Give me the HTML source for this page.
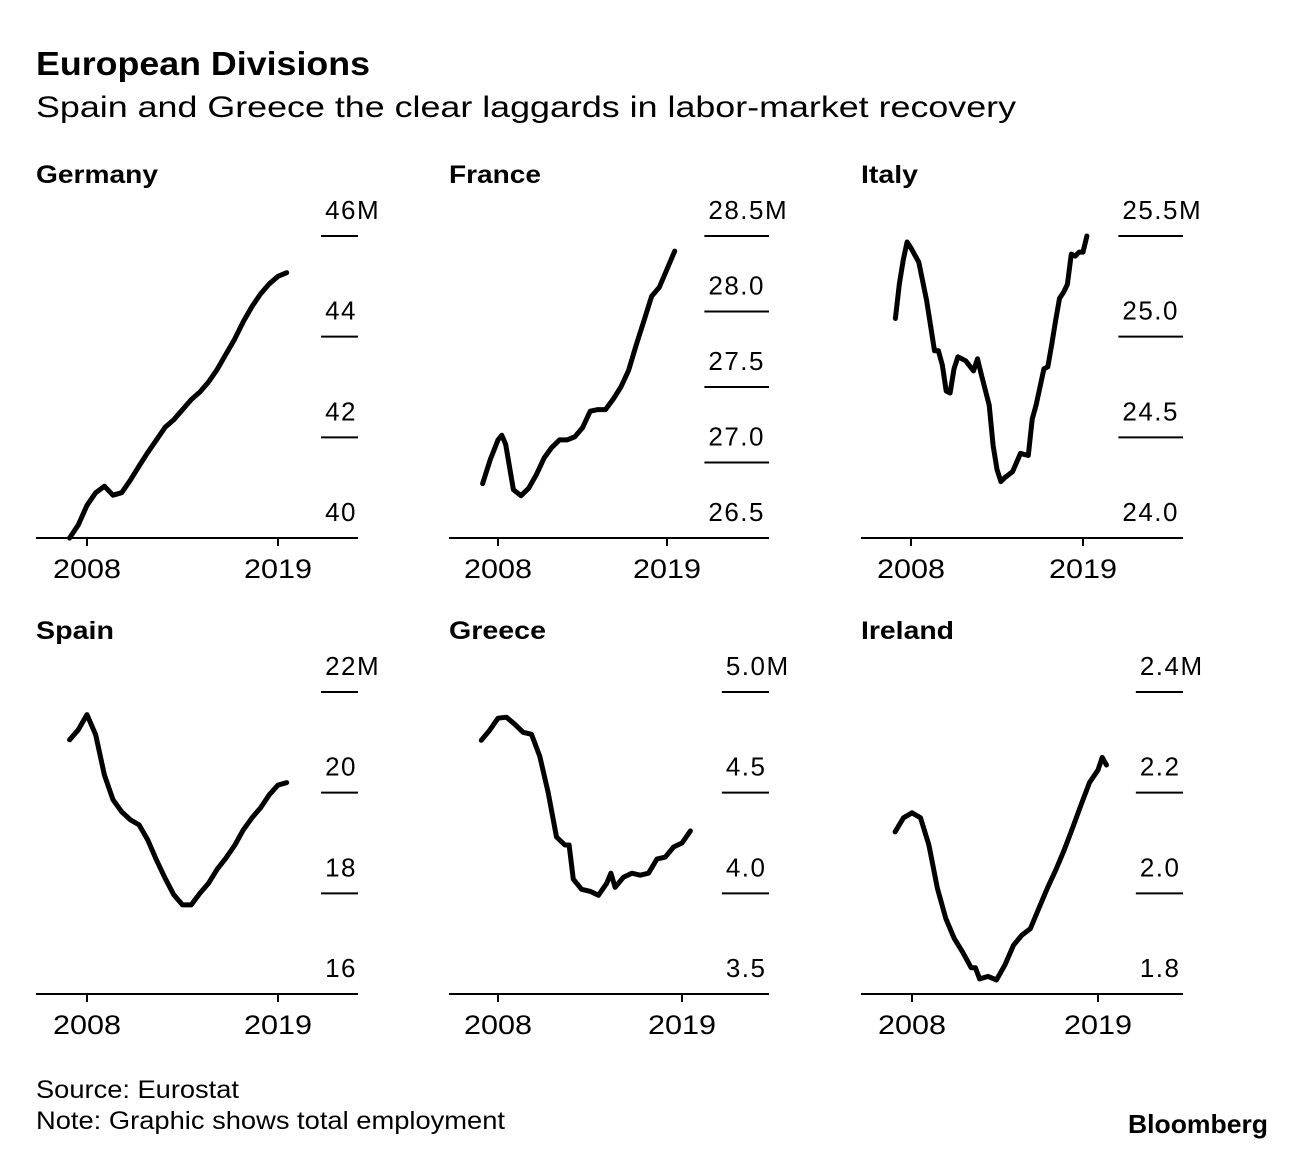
<!DOCTYPE html>
<html><head><meta charset="utf-8"><style>
body{margin:0;background:#fff;font-family:"Liberation Sans",Arial,sans-serif;}
svg text{font-family:"Liberation Sans",Arial,sans-serif;fill:#000;}
</style></head><body>
<svg id="c" width="1296" height="1150" viewBox="0 0 1296 1150">
<text x="36" y="75" font-size="33" font-weight="bold" textLength="334" lengthAdjust="spacingAndGlyphs">European Divisions</text>
<text x="36" y="117" font-size="30" textLength="980" lengthAdjust="spacingAndGlyphs">Spain and Greece the clear laggards in labor-market recovery</text>
<text x="36" y="1098" font-size="25" textLength="203" lengthAdjust="spacingAndGlyphs">Source: Eurostat</text>
<text x="36" y="1129" font-size="25" textLength="469" lengthAdjust="spacingAndGlyphs">Note: Graphic shows total employment</text>
<text x="1128" y="1133" font-size="26" font-weight="bold" textLength="140" lengthAdjust="spacingAndGlyphs">Bloomberg</text>
</svg>
<script>
const germanyYears=[2007,2007.5,2008,2008.5,2009,2009.5,2010,2010.5,2011,2011.5,2012,2012.5,2013,2013.5,2014,2014.5,2015,2015.5,2016,2016.5,2017,2017.5,2018,2018.5,2019,2019.5];
const germanyValues=[40.0,40.26,40.65,40.9,41.03,40.85,40.9,41.15,41.43,41.7,41.95,42.2,42.35,42.55,42.75,42.9,43.1,43.35,43.65,43.95,44.3,44.6,44.85,45.05,45.2,45.27];
const franceYears=[2007,2007.5,2008,2008.25,2008.5,2009,2009.5,2010,2010.5,2011,2011.5,2012,2012.5,2013,2013.5,2014,2014.5,2015,2015.5,2016,2016.5,2017,2017.5,2018,2018.5,2019,2019.5];
const franceValues=[26.86,27.02,27.15,27.18,27.12,26.82,26.78,26.83,26.92,27.03,27.1,27.15,27.15,27.17,27.23,27.34,27.35,27.35,27.42,27.5,27.61,27.78,27.94,28.1,28.16,28.28,28.4];
const italyYears=[2007,2007.25,2007.5,2007.75,2008,2008.5,2009,2009.5,2009.75,2010,2010.25,2010.5,2010.75,2011,2011.5,2012,2012.25,2012.5,2013,2013.25,2013.5,2013.75,2014,2014.5,2015,2015.5,2015.75,2016,2016.5,2016.75,2017,2017.25,2017.5,2017.75,2018,2018.25,2018.5,2018.75,2019,2019.25];
const italyValues=[25.09,25.26,25.38,25.47,25.44,25.37,25.18,24.93,24.93,24.86,24.73,24.72,24.84,24.9,24.88,24.83,24.89,24.81,24.66,24.46,24.34,24.28,24.3,24.33,24.42,24.41,24.59,24.66,24.84,24.85,24.96,25.08,25.19,25.22,25.26,25.41,25.4,25.42,25.42,25.5];
const spainYears=[2007,2007.5,2008,2008.25,2008.5,2009,2009.5,2010,2010.5,2011,2011.5,2012,2012.5,2013,2013.5,2014,2014.5,2015,2015.5,2016,2016.5,2017,2017.5,2018,2018.5,2019,2019.5];
const spainValues=[21.05,21.25,21.55,21.35,21.15,20.35,19.86,19.62,19.46,19.36,19.06,18.66,18.3,17.97,17.77,17.77,18.0,18.2,18.48,18.7,18.95,19.26,19.5,19.7,19.96,20.15,20.2];
const greeceYears=[2007,2007.5,2008,2008.5,2009,2009.5,2010,2010.5,2011,2011.5,2012,2012.25,2012.5,2013,2013.5,2014,2014.5,2014.75,2015,2015.5,2016,2016.5,2017,2017.5,2018,2018.5,2019,2019.5];
const greeceValues=[4.76,4.81,4.87,4.875,4.84,4.8,4.79,4.68,4.5,4.28,4.24,4.24,4.07,4.02,4.01,3.99,4.05,4.1,4.03,4.08,4.1,4.09,4.1,4.17,4.18,4.23,4.25,4.31];
const irelandYears=[2007,2007.5,2008,2008.5,2009,2009.5,2010,2010.5,2011,2011.5,2011.75,2012,2012.5,2013,2013.5,2014,2014.5,2015,2015.5,2016,2016.5,2017,2017.5,2018,2018.5,2019,2019.25,2019.5];
const irelandValues=[2.122,2.15,2.16,2.15,2.096,2.01,1.95,1.91,1.883,1.852,1.852,1.83,1.835,1.828,1.858,1.897,1.917,1.93,1.97,2.01,2.046,2.086,2.13,2.176,2.22,2.245,2.27,2.255];
const germanyTicks=["40","42","44","46M"];
const franceTicks=["26.5","27.0","27.5","28.0","28.5M"];
const italyTicks=["24.0","24.5","25.0","25.5M"];
const spainTicks=["16","18","20","22M"];
const greeceTicks=["3.5","4.0","4.5","5.0M"];
const irelandTicks=["1.8","2.0","2.2","2.4M"];
const xTickYears=[2008,2019];

const svg=document.getElementById('c');
const NS='http://www.w3.org/2000/svg';
function mk(tag,attrs){const e=document.createElementNS(NS,tag);for(const k in attrs)e.setAttribute(k,attrs[k]);svg.appendChild(e);return e;}

const panels=[
 {key:'germany',name:'Germany',tw:122,years:germanyYears,vals:germanyValues,ticks:germanyTicks,min:40,max:46,left:36,right:358,base:538,top:236,x08:87,x19:278},
 {key:'france',name:'France',tw:92,years:franceYears,vals:franceValues,ticks:franceTicks,min:26.5,max:28.5,left:449,right:769,base:538,top:236,x08:498,x19:667},
 {key:'italy',name:'Italy',tw:57,years:italyYears,vals:italyValues,ticks:italyTicks,min:24,max:25.5,left:861,right:1183,base:538,top:236,x08:911,x19:1083},
 {key:'spain',name:'Spain',tw:78,years:spainYears,vals:spainValues,ticks:spainTicks,min:16,max:22,left:36,right:358,base:994,top:692,x08:87,x19:278},
 {key:'greece',name:'Greece',tw:97,years:greeceYears,vals:greeceValues,ticks:greeceTicks,min:3.5,max:5.0,left:449,right:769,base:994,top:692,x08:498,x19:682},
 {key:'ireland',name:'Ireland',tw:93,years:irelandYears,vals:irelandValues,ticks:irelandTicks,min:1.8,max:2.4,left:861,right:1183,base:994,top:692,x08:912,x19:1098}
];

panels.forEach(p=>{
 const xs=y=>p.x08+(y-2008)*(p.x19-p.x08)/11;
 const ys=v=>p.base-(v-p.min)*(p.base-p.top)/(p.max-p.min);
 const t=mk('text',{x:p.left,y:p.top-53,'font-size':25,'font-weight':'bold',textLength:p.tw,lengthAdjust:'spacingAndGlyphs'});
 t.textContent=p.name;
 
 
 const n=p.ticks.length;
 let maxW=0;
 const items=[];
 p.ticks.forEach((lab,i)=>{
  const v=p.min+i*(p.max-p.min)/(n-1);
  const yy=ys(v);
  const num=lab.replace('M','');
  const tx=mk('text',{x:0,y:yy-17,'font-size':26,'letter-spacing':1.5});
  tx.textContent=num;
  
  
  const w=tx.getComputedTextLength()+1.5*num.length;
  tx.setAttribute('x',p.right+2-w);
  if(lab.endsWith('M')){
   const ts=document.createElementNS(NS,'tspan');
   ts.textContent='M';
   tx.appendChild(ts);
  }
  if(w>maxW)maxW=w;
  items.push(yy);
 });
 items.forEach((yy,i)=>{
  if(i===0)return;
  const ln=mk('line',{x1:p.right-maxW-2,x2:p.right,y1:yy,y2:yy,stroke:'#000','stroke-width':2});
  
  
 });
 const ax=mk('line',{x1:p.left,x2:p.right,y1:p.base,y2:p.base,stroke:'#000','stroke-width':2});
 
 
 xTickYears.forEach(yr=>{
  const tk=mk('line',{x1:xs(yr),x2:xs(yr),y1:p.base,y2:p.base+8,stroke:'#000','stroke-width':2});
  
  
  const tl=mk('text',{x:xs(yr),y:p.base+40,'font-size':27,'text-anchor':'middle',textLength:68,lengthAdjust:'spacingAndGlyphs'});
  tl.textContent=String(yr);
  
  
 });
 const d=p.years.map((yr,i)=>(i?'L':'M')+xs(yr).toFixed(1)+','+ys(p.vals[i]).toFixed(1)).join(' ');
 const path=mk('path',{d:d,fill:'none',stroke:'#000','stroke-width':5,'stroke-linejoin':'round','stroke-linecap':'round'});
 
 
});
</script>
</body></html>
